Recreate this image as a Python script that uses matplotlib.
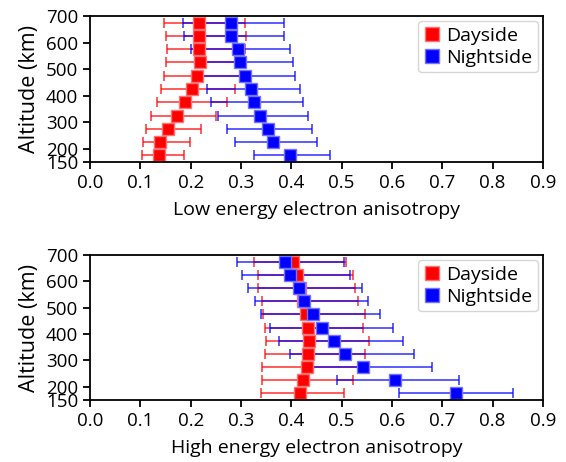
import matplotlib.pyplot as plt
from matplotlib.lines import Line2D
import numpy as np

plt.rcParams['font.family'] = ['Open Sans', 'DejaVu Sans']

alt = [175, 225, 275, 325, 375, 425, 475, 525, 575, 625, 675]

# low energy panel
low_day = [0.138, 0.140, 0.154, 0.172, 0.189, 0.202, 0.212, 0.218, 0.217, 0.217, 0.216]
low_day_lo = [0.103, 0.105, 0.112, 0.121, 0.134, 0.142, 0.148, 0.151, 0.152, 0.150, 0.148]
low_day_hi = [0.187, 0.198, 0.221, 0.250, 0.273, 0.288, 0.300, 0.305, 0.308, 0.309, 0.308]

low_night = [0.397, 0.364, 0.353, 0.338, 0.325, 0.319, 0.307, 0.299, 0.294, 0.281, 0.280]
low_night_lo = [0.326, 0.289, 0.273, 0.255, 0.240, 0.232, 0.215, 0.212, 0.201, 0.187, 0.185]
low_night_hi = [0.476, 0.451, 0.442, 0.434, 0.423, 0.417, 0.407, 0.403, 0.397, 0.385, 0.386]

# high energy panel
high_day = [0.418, 0.423, 0.431, 0.434, 0.436, 0.434, 0.430, 0.424, 0.418, 0.411, 0.403]
high_day_lo = [0.340, 0.342, 0.342, 0.347, 0.350, 0.348, 0.344, 0.341, 0.333, 0.333, 0.325]
high_day_hi = [0.505, 0.523, 0.540, 0.546, 0.555, 0.543, 0.546, 0.532, 0.527, 0.522, 0.509]

high_night = [0.727, 0.606, 0.543, 0.507, 0.485, 0.461, 0.444, 0.426, 0.415, 0.397, 0.388]
high_night_lo = [0.614, 0.491, 0.435, 0.398, 0.375, 0.358, 0.339, 0.327, 0.313, 0.302, 0.293]
high_night_hi = [0.840, 0.733, 0.679, 0.644, 0.622, 0.601, 0.577, 0.552, 0.541, 0.516, 0.505]

xticks = [0.0, 0.1, 0.2, 0.3, 0.4, 0.5, 0.6, 0.7, 0.8, 0.9]
yticks = [150, 200, 300, 400, 500, 600, 700]

fig = plt.figure(figsize=(5.66, 4.62), dpi=100)
W, H = 566, 462
ax1 = fig.add_axes([90 / W, (H - 162) / H, 453 / W, 146 / H])
ax2 = fig.add_axes([90 / W, (H - 400) / H, 453 / W, 145 / H])


def panel(ax, day, dlo, dhi, night, nlo, nhi, xlabel):
    for val, lo, hi, col in [(day, dlo, dhi, 'red'), (night, nlo, nhi, 'blue')]:
        val = np.array(val)
        err = [val - np.array(lo), np.array(hi) - val]
        ax.errorbar(val, alt, xerr=err, fmt='none', ecolor=col, elinewidth=1.2,
                    capsize=3.5, capthick=1.2, alpha=0.75)
    for val, col, edge in [(day, 'red', (1, 0.45, 0.45)), (night, 'blue', (0.45, 0.45, 1))]:
        ax.plot(val, alt, 's', color=col, markersize=8.5, mec=edge, mew=1)
    ax.set_xlim(0, 0.9)
    ax.set_ylim(150, 700)
    ax.set_xticks(xticks)
    ax.set_xticklabels(['%.1f' % t for t in xticks])
    ax.set_yticks(yticks)
    ax.tick_params(labelsize=13.5, length=5, width=1.3)
    ax.tick_params(axis='x', pad=4)
    ax.tick_params(axis='y', pad=3.5)
    for s in ax.spines.values():
        s.set_linewidth(1.3)
    ax.set_xlabel(xlabel, fontsize=14, labelpad=6)
    ax.set_ylabel('Altitude (km)', fontsize=15.5, labelpad=4)
    handles = [Line2D([], [], marker='s', ls='none', color='red', mec=(1, 0.45, 0.45), markersize=10),
               Line2D([], [], marker='s', ls='none', color='blue', mec=(0.45, 0.45, 1), markersize=10)]
    ax.legend(handles, ['Dayside', 'Nightside'], loc='upper right', fontsize=14,
              borderaxespad=0.25, handlelength=0.8, handletextpad=0.35, borderpad=0.3,
              labelspacing=0.2)


panel(ax1, low_day, low_day_lo, low_day_hi, low_night, low_night_lo, low_night_hi,
      'Low energy electron anisotropy')
panel(ax2, high_day, high_day_lo, high_day_hi, high_night, high_night_lo, high_night_hi,
      'High energy electron anisotropy')

fig.savefig('out.png', dpi=100)
